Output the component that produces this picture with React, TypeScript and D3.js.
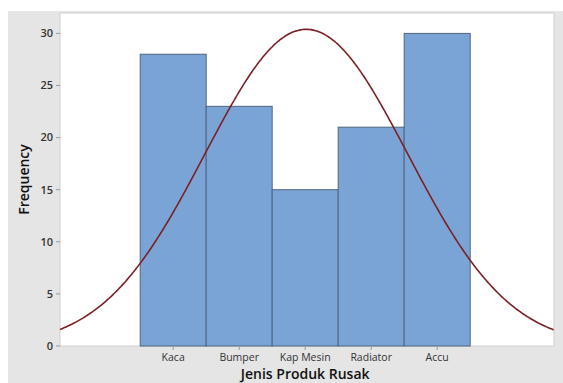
import React from "react";
import * as d3 from "d3";

// Data
const categories = ["Kaca", "Bumper", "Kap Mesin", "Radiator", "Accu"];
const counts = [28, 23, 15, 21, 30];
const yTicks = [0, 5, 10, 15, 20, 25, 30];

const W = 563, H = 383;
const plot = { left: 60, top: 13, right: 554, bottom: 346 };

// fitted normal over category positions (1..5), like Minitab does
const n = d3.sum(counts);
const mean = d3.sum(counts.map((c, i) => c * (i + 1))) / n;
const sd = Math.sqrt(d3.sum(counts.map((c, i) => c * (i + 1 - mean) ** 2)) / n);

const App = () => {
  const x = d3.scaleLinear().domain([-0.715, 6.77]).range([plot.left, plot.right]);
  const y = d3.scaleLinear().domain([0, 32]).range([plot.bottom, plot.bottom - 32 * 10.42]);

  const pts = d3.range(-0.715, 6.771, 0.02).map(v => [
    v,
    (n / (sd * Math.sqrt(2 * Math.PI))) * Math.exp(-0.5 * ((v - mean) / sd) ** 2),
  ]);
  const line = d3.line<number[]>().x(d => x(d[0])).y(d => y(d[1])).curve(d3.curveBasis);

  const font = "'Open Sans', 'Noto Sans', sans-serif";

  return (
    <svg width={W} height={H} style={{ position: "absolute", left: 0, top: 0, display: "block" }}>
      <rect x={0} y={0} width={W} height={H} fill="#ffffff" />
      <rect x={8} y={11} width={W - 8} height={H - 11} fill="#e5e5e5" />
      <rect x={plot.left} y={plot.top} width={plot.right - plot.left} height={plot.bottom - plot.top}
        fill="#ffffff" stroke="#cfcfcf" strokeWidth={1} />

      {/* bars */}
      {counts.map((c, i) => (
        <rect key={categories[i]} x={x(i + 0.5)} y={y(c)} width={x(i + 1.5) - x(i + 0.5)}
          height={y(0) - y(c)} fill="#7ba4d6" stroke="#4f6580" strokeWidth={1} />
      ))}

      {/* fitted curve */}
      <path d={line(pts) || ""} fill="none" stroke="#7d2024" strokeWidth={1.6} />

      {/* y axis */}
      {yTicks.map(t => (
        <g key={t}>
          <line x1={plot.left - 4} x2={plot.left} y1={y(t)} y2={y(t)} stroke="#999" />
          <text x={plot.left - 7} y={y(t)} dy="0.35em" textAnchor="end" fontFamily={font}
            fontSize={11} fontWeight={600} fill="#333">{t}</text>
        </g>
      ))}

      {/* x axis */}
      {categories.map((c, i) => (
        <g key={c}>
          <line x1={x(i + 1)} x2={x(i + 1)} y1={plot.bottom} y2={plot.bottom + 4} stroke="#999" />
          <text x={x(i + 1)} y={plot.bottom + 15} textAnchor="middle" fontFamily={font}
            fontSize={10.5} fill="#333">{c}</text>
        </g>
      ))}

      <text x={x(3)} y={379} textAnchor="middle" fontFamily={font} fontSize={14} fontWeight={600}
        fill="#111">Jenis Produk Rusak</text>
      <text transform={`translate(29, ${(plot.top + plot.bottom) / 2}) rotate(-90)`} textAnchor="middle"
        fontFamily={font} fontSize={14} fontWeight={600} fill="#111">Frequency</text>
    </svg>
  );
};

export default App;
